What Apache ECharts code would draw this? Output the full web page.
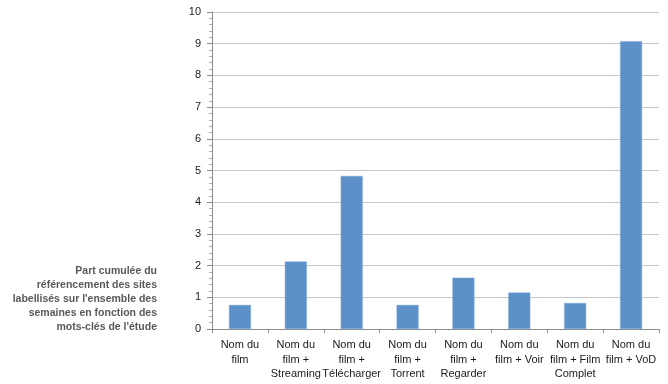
<!DOCTYPE html>
<html><head><meta charset="utf-8">
<script src="https://cdn.jsdelivr.net/npm/echarts@6/dist/echarts.min.js"></script>
<style>html,body{margin:0;padding:0;background:#fff}#c{width:668px;height:384px}</style>
</head><body><div id="c"></div>
<script>
const categories = ["Nom du\nfilm", "Nom du\nfilm +\nStreaming", "Nom du\nfilm +\nTélécharger", "Nom du\nfilm +\nTorrent", "Nom du\nfilm +\nRegarder", "Nom du\nfilm + Voir", "Nom du\nfilm + Film\nComplet", "Nom du\nfilm + VoD"];
const values = [0.76, 2.13, 4.83, 0.76, 1.62, 1.15, 0.82, 9.08];
const yTicks = [0, 1, 2, 3, 4, 5, 6, 7, 8, 9, 10];
const titleLines = ["Part cumulée du", "référencement des sites", "labellisés sur l'ensemble des", "semaines en fonction des", "mots-clés de l'étude"];

const chart = echarts.init(document.getElementById('c'), null, {renderer: 'canvas'});
chart.setOption({
  animation: false,
  grid: {left: 212, right: 9, top: 12, bottom: 55, containLabel: false},
  graphic: titleLines.map((t, i) => ({
    type: 'text', x: 157, y: 271 + i * 14,
    style: {text: t, align: 'right', verticalAlign: 'middle', fontFamily: 'Liberation Sans, Arial, sans-serif', fontWeight: 'bold', fontSize: 10.5, fill: '#595959'}
  })),
  xAxis: {
    type: 'category', data: categories,
    axisLine: {lineStyle: {color: '#8c8c8c', width: 1}},
    axisTick: {show: true, alignWithLabel: false, length: 4, lineStyle: {color: '#8c8c8c'}},
    axisLabel: {interval: 0, color: '#1a1a1a', fontFamily: 'Liberation Sans, Arial, sans-serif', fontSize: 11, lineHeight: 14.5, margin: 9}
  },
  yAxis: {
    type: 'value', min: yTicks[0], max: yTicks[yTicks.length - 1], interval: 1,
    axisLine: {show: true, lineStyle: {color: '#8c8c8c'}},
    axisTick: {show: true, length: 5, lineStyle: {color: '#8c8c8c'}},
    minorTick: {show: true, splitNumber: 5, length: 3, lineStyle: {color: '#b0b0b0'}},
    splitLine: {lineStyle: {color: '#c8c8c8', width: 1}},
    axisLabel: {color: '#1a1a1a', fontFamily: 'Liberation Sans, Arial, sans-serif', fontSize: 11, margin: 11}
  },
  series: [{
    type: 'bar', data: values, barWidth: 22,
    itemStyle: {color: '#5b91c8', borderColor: '#7fa9d6', borderWidth: 0.5}
  }]
});
</script></body></html>
